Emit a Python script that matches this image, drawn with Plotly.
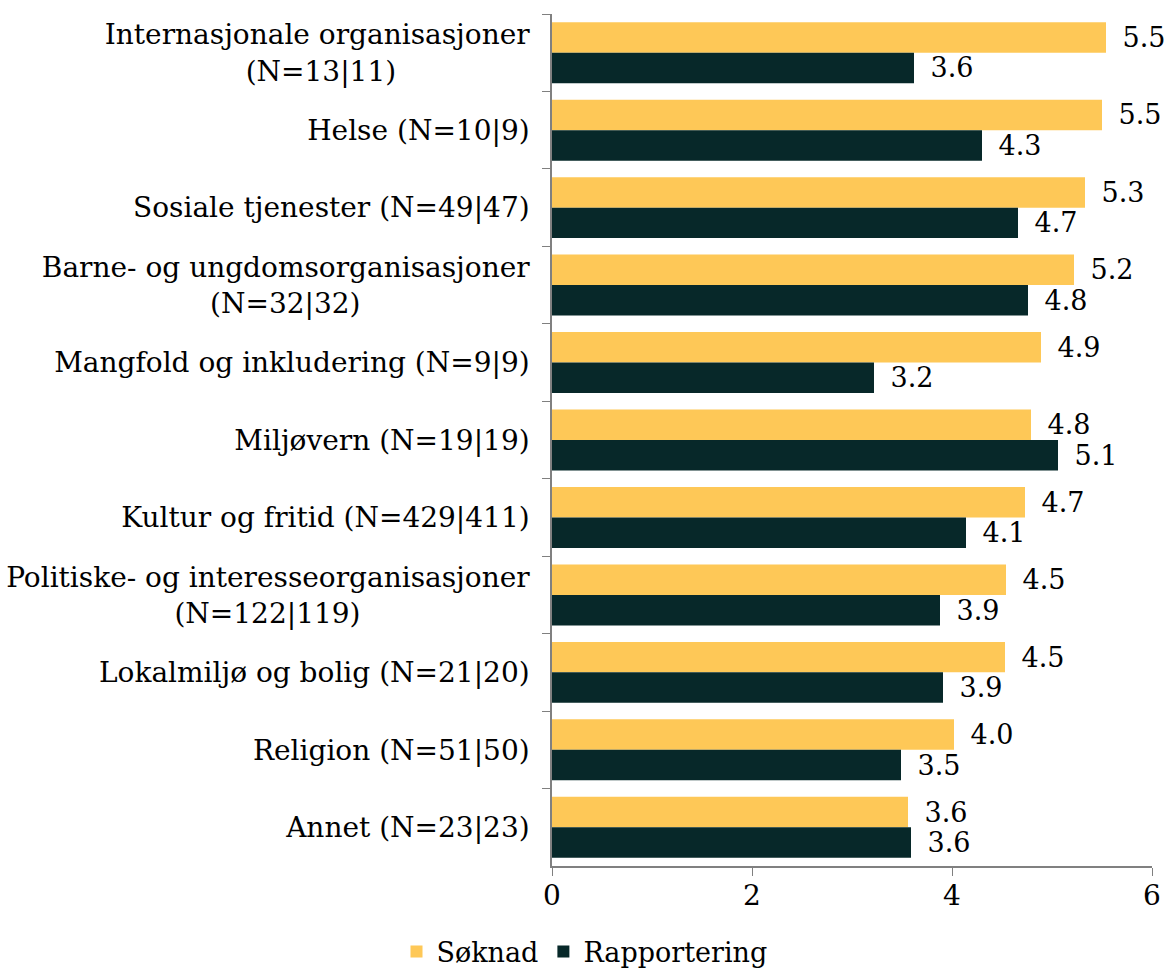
import plotly.graph_objects as go

NB = "\u00a0"
categories = [
    "Internasjonale organisasjoner<br>(N=13|11)" + NB * 15,
    "Helse (N=10|9)",
    "Sosiale tjenester (N=49|47)",
    "Barne- og ungdomsorganisasjoner<br>(N=32|32)" + NB * 19,
    "Mangfold og inkludering (N=9|9)",
    "Miljøvern (N=19|19)",
    "Kultur og fritid (N=429|411)",
    "Politiske- og interesseorganisasjoner<br>(N=122|119)" + NB * 19,
    "Lokalmiljø og bolig (N=21|20)",
    "Religion (N=51|50)",
    "Annet (N=23|23)",
]
soknad = [5.54, 5.50, 5.33, 5.22, 4.89, 4.79, 4.73, 4.54, 4.53, 4.02, 3.56]
rapportering = [3.62, 4.30, 4.66, 4.76, 3.22, 5.06, 4.14, 3.88, 3.91, 3.49, 3.59]
x_ticks = [0, 2, 4, 6]

FONT = "DejaVu Serif"
YELLOW = "#FEC857"
DARK = "#072829"

fig = go.Figure()
for name, vals, col in [("Søknad", soknad, YELLOW), ("Rapportering", rapportering, DARK)]:
    fig.add_trace(go.Bar(
        y=categories, x=vals, name=name, orientation="h",
        marker=dict(color=col, line=dict(width=0)),
        texttemplate="\u2002%{x:.1f}", textposition="outside",
        textfont=dict(family=FONT, size=27, color="black"),
        constraintext="none", cliponaxis=False,
    ))

fig.update_layout(
    width=1169, height=969,
    margin=dict(l=552, r=17, t=14, b=103),
    plot_bgcolor="white", paper_bgcolor="white",
    barmode="group", bargap=0.213, bargroupgap=0,
    font=dict(family=FONT, size=28, color="black"),
    showlegend=True,
    legend=dict(orientation="h", xref="container", x=0.5, xanchor="center",
                yref="container", y=0.0175, yanchor="middle",
                font=dict(family=FONT, size=27), itemwidth=30),
    xaxis=dict(range=[0, 6], tickvals=x_ticks, ticks="outside", ticklen=8,
               tickcolor="#808080", showline=True, linecolor="#808080", linewidth=1.5,
               showgrid=False, zeroline=False, tickfont=dict(size=28), automargin=False,
               ticklabelstandoff=-4),
    yaxis=dict(autorange="reversed", ticks="outside", tickson="boundaries", ticklen=8,
               tickcolor="#808080", showline=True, linecolor="#808080", linewidth=1.5,
               showgrid=False, ticklabelstandoff=15, tickfont=dict(size=28), automargin=False),
)

fig.write_html("out.html", config={"displayModeBar": False},
               post_script="document.body.style.margin='0';")
